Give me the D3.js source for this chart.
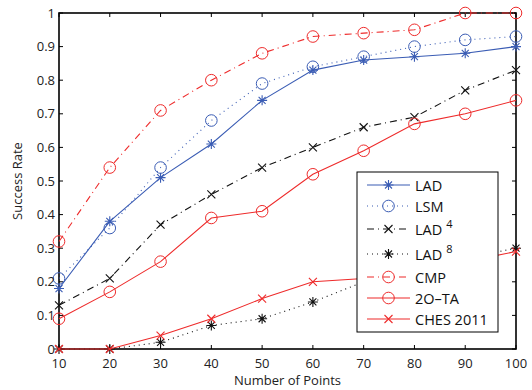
<!DOCTYPE html>
<html><head><meta charset="utf-8">
<script src="https://cdn.jsdelivr.net/npm/d3@7"></script>
<style>body{margin:0;background:#fff}svg{display:block}text{font-family:"Open Sans","DejaVu Sans",sans-serif}</style>
</head><body>
<script>
const xs = [10,20,30,40,50,60,70,80,90,100];
const lad   = [0.18,0.38,0.51,0.61,0.74,0.83,0.86,0.87,0.88,0.90];
const lsm   = [0.21,0.36,0.54,0.68,0.79,0.84,0.87,0.90,0.92,0.93];
const lad4  = [0.13,0.21,0.37,0.46,0.54,0.60,0.66,0.69,0.77,0.83];
const lad8  = [0.00,0.00,0.02,0.07,0.09,0.14,0.20,0.24,0.27,0.30];
const cmp   = [0.32,0.54,0.71,0.80,0.88,0.93,0.94,0.95,1.00,1.00];
const ota   = [0.09,0.17,0.26,0.39,0.41,0.52,0.59,0.67,0.70,0.74];
const ches  = [0.00,0.00,0.04,0.09,0.15,0.20,0.21,0.23,0.26,0.29];
const xTicks = [10,20,30,40,50,60,70,80,90,100];
const yTicks = [0,0.1,0.2,0.3,0.4,0.5,0.6,0.7,0.8,0.9,1];

const BLUE="#3a5cb4", RED="#ee2b2b", BLACK="#111";
const series = [
  {name:"LAD", sup:"", vals:lad, color:BLUE, dash:null, marker:"star"},
  {name:"LSM", sup:"", vals:lsm, color:BLUE, dash:"1,4", marker:"circle"},
  {name:"LAD", sup:"4", vals:lad4, color:BLACK, dash:"7,4,1,4", marker:"x"},
  {name:"LAD", sup:"8", vals:lad8, color:BLACK, dash:"1,4", marker:"star"},
  {name:"CMP", sup:"", vals:cmp, color:RED, dash:"7,4,1,4", marker:"circle"},
  {name:"2O\u2013TA", sup:"", vals:ota, color:RED, dash:null, marker:"circle"},
  {name:"CHES 2011", sup:"", vals:ches, color:RED, dash:null, marker:"x"}
];

const W=532,H=390, L=59, R=516, T=13, B=349;
const svg=d3.select("body").append("svg").attr("width",W).attr("height",H);
const x=d3.scaleLinear().domain([10,100]).range([L,R]);
const y=d3.scaleLinear().domain([0,1]).range([B,T]);

function drawMarker(g, type, cx, cy, color){
  if(type==="circle"){
    g.append("circle").attr("cx",cx).attr("cy",cy).attr("r",5.8).attr("fill","none").attr("stroke",color).attr("stroke-width",1);
  } else if(type==="x"){
    const s=4;
    g.append("path").attr("d",`M${cx-s},${cy-s}L${cx+s},${cy+s}M${cx-s},${cy+s}L${cx+s},${cy-s}`).attr("stroke",color).attr("stroke-width",1.1);
  } else {
    const s=5, d=s*0.7;
    g.append("path").attr("d",`M${cx},${cy-s}L${cx},${cy+s}M${cx-d},${cy-d}L${cx+d},${cy+d}M${cx-d},${cy+d}L${cx+d},${cy-d}M${cx-s},${cy}L${cx+s},${cy}`).attr("stroke",color).attr("stroke-width",1.1);
  }
}

// frame
svg.append("rect").attr("x",L).attr("y",T).attr("width",R-L).attr("height",B-T).attr("fill","none").attr("stroke","#000").attr("stroke-width",1.6);

// ticks (inside, all four sides)
const tk=svg.append("g").attr("stroke","#000").attr("stroke-width",1);
xTicks.forEach(t=>{
  tk.append("line").attr("x1",x(t)).attr("x2",x(t)).attr("y1",B).attr("y2",B-4);
  tk.append("line").attr("x1",x(t)).attr("x2",x(t)).attr("y1",T).attr("y2",T+4);
});
yTicks.forEach(t=>{
  tk.append("line").attr("x1",L).attr("x2",L+4).attr("y1",y(t)).attr("y2",y(t));
  tk.append("line").attr("x1",R).attr("x2",R-4).attr("y1",y(t)).attr("y2",y(t));
});

const line=d3.line().x((d,i)=>x(xs[i])).y(d=>y(d));
const plot=svg.append("g");
series.forEach(s=>{
  plot.append("path").datum(s.vals).attr("d",line).attr("fill","none").attr("stroke",s.color)
    .attr("stroke-width",1.1).attr("stroke-dasharray",s.dash);
  s.vals.forEach((v,i)=>drawMarker(plot,s.marker,x(xs[i]),y(v),s.color));
});

// tick labels
const lab=svg.append("g").attr("font-size",13).attr("fill","#222");
xTicks.forEach(t=>lab.append("text").attr("x",x(t)).attr("y",B+18.5).attr("text-anchor","middle").text(t));
yTicks.forEach(t=>lab.append("text").attr("x",L-4).attr("y",y(t)+4.5).attr("text-anchor","end").text(t));

svg.append("text").attr("x",(L+R)/2).attr("y",385).attr("text-anchor","middle").attr("font-size",13).attr("fill","#222").text("Number of Points");
svg.append("text").attr("transform",`translate(22,${(T+B)/2}) rotate(-90)`).attr("text-anchor","middle").attr("font-size",13).attr("fill","#222").text("Success Rate");

// legend
const lg=svg.append("g");
lg.append("rect").attr("x",357).attr("y",172).attr("width",141).attr("height",160).attr("fill","#fff").attr("stroke","#000").attr("stroke-width",1);
const ly=[185,206,229,254,277,298,319];
series.forEach((s,i)=>{
  const yy=ly[i];
  lg.append("line").attr("x1",367).attr("x2",410).attr("y1",yy).attr("y2",yy).attr("stroke",s.color).attr("stroke-width",1.1).attr("stroke-dasharray",s.dash);
  drawMarker(lg,s.marker,388.5,yy,s.color);
  const t=lg.append("text").attr("x",415).attr("y",yy+5.5).attr("font-size",14.5).attr("fill","#111");
  t.append("tspan").text(s.name);
  if(s.sup) t.append("tspan").attr("dx",4).attr("dy",-7).attr("font-size",11).text(s.sup);
});
</script>
</body></html>
